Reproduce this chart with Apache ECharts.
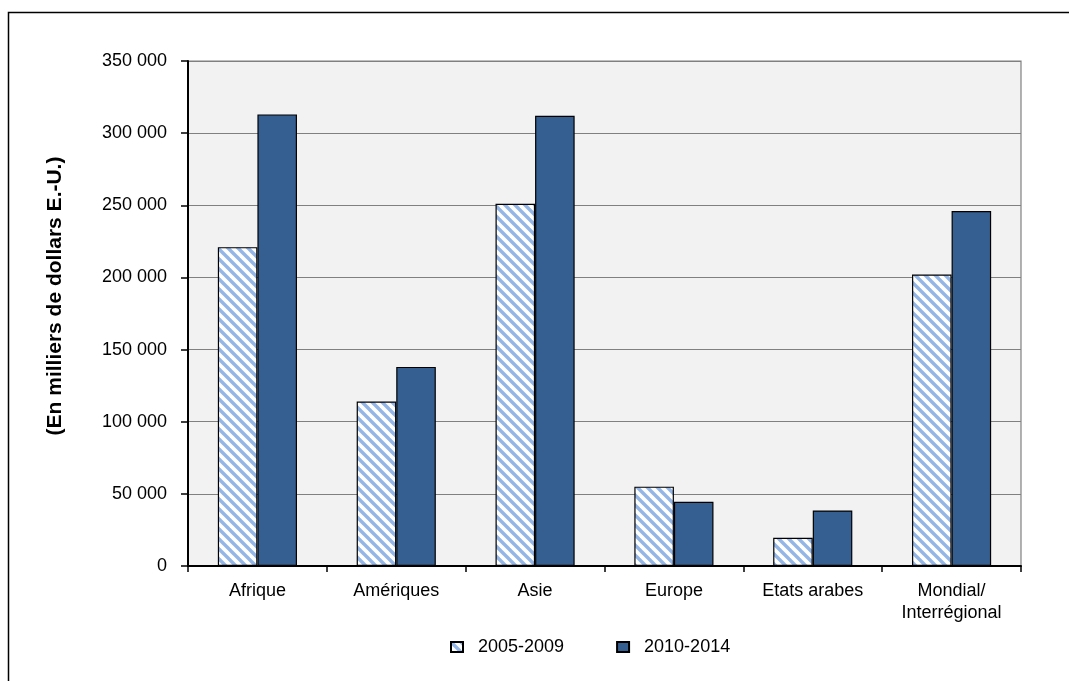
<!DOCTYPE html>
<html>
<head>
<meta charset="utf-8">
<script src="https://cdn.jsdelivr.net/npm/echarts@6/dist/echarts.min.js"></script>
<style>
  html, body { margin: 0; padding: 0; background: #fff; }
  #chart { width: 1069px; height: 681px; }
</style>
</head>
<body>
<div id="chart"></div>
<script>
// Regions (category axis)
const categories = ['Afrique', 'Amériques', 'Asie', 'Europe', 'Etats arabes', 'Mondial/\nInterrégional'];
// Amounts in thousands of US dollars
const period1Name = '2005-2009';
const period1 = [221000, 114000, 251000, 55000, 19500, 202000];
const period2Name = '2010-2014';
const period2 = [313000, 138000, 312000, 44500, 38500, 246000];
const yTitle = '(En milliers de dollars E.-U.)';

// Diagonal light-blue hatch used for the first period
function makeHatch() {
  const c = document.createElement('canvas');
  const s = 10;
  c.width = s; c.height = s;
  const g = c.getContext('2d');
  g.fillStyle = '#ffffff';
  g.fillRect(0, 0, s, s);
  g.strokeStyle = '#94b6e6';
  g.lineWidth = 3.4;
  g.lineCap = 'square';
  [[-s, 0], [0, 0], [0, -s]].forEach(([dx, dy]) => {
    g.beginPath();
    g.moveTo(dx, dy);
    g.lineTo(dx + s, dy + s);
    g.stroke();
  });
  return c;
}

const fontFamily = '"Liberation Sans", Arial, sans-serif';
const chart = echarts.init(document.getElementById('chart'), null, { renderer: 'canvas' });

const fmt = v => String(v).replace(/\B(?=(\d{3})+(?!\d))/g, ' ');

chart.setOption({
  animation: false,
  backgroundColor: '#ffffff',
  textStyle: { fontFamily: fontFamily, color: '#000' },
  graphic: [
    {
      type: 'rect',
      shape: { x: 8.5, y: 12.5, width: 1100, height: 700 },
      style: { fill: 'none', stroke: '#000', lineWidth: 1.5 },
      silent: true, z: -10
    },
    {
      type: 'text',
      x: 55, y: 296,
      rotation: Math.PI / 2,
      style: {
        text: yTitle,
        fontSize: 21,
        fontWeight: 'bold',
        fontFamily: fontFamily,
        fill: '#000',
        align: 'center',
        verticalAlign: 'middle'
      },
      silent: true
    }
  ],
  grid: {
    left: 188, right: 48, top: 61, bottom: 115,
    show: true,
    backgroundColor: '#f2f2f2',
    borderColor: '#808080',
    borderWidth: 1.2
  },
  legend: {
    bottom: 20,
    left: 445,
    icon: 'rect',
    itemWidth: 12,
    itemHeight: 10,
    itemGap: 52,
    textStyle: { fontSize: 18, fontFamily: fontFamily, color: '#000', padding: [0, 0, 0, 10] },
    data: [period1Name, period2Name]
  },
  xAxis: {
    type: 'category',
    data: categories,
    axisLine: { lineStyle: { color: '#000', width: 2 } },
    axisTick: { show: true, length: 6, lineStyle: { color: '#000', width: 1.5 } },
    axisLabel: { fontSize: 18, color: '#000', margin: 14, lineHeight: 22, fontFamily: fontFamily }
  },
  yAxis: {
    type: 'value',
    min: 0, max: 350000, interval: 50000,
    axisLine: { show: true, lineStyle: { color: '#000', width: 2 } },
    axisTick: { show: true, length: 7, lineStyle: { color: '#000', width: 1.5 } },
    axisLabel: { fontSize: 18, color: '#000', margin: 21, formatter: fmt, fontFamily: fontFamily },
    splitLine: { lineStyle: { color: '#808080', width: 1.2 } }
  },
  series: [
    {
      name: period1Name,
      type: 'bar',
      data: period1,
      barGap: '0%',
      barCategoryGap: '43%',
      itemStyle: {
        color: { image: makeHatch(), repeat: 'repeat' },
        borderColor: '#000',
        borderWidth: 1.2
      }
    },
    {
      name: period2Name,
      type: 'bar',
      data: period2,
      barGap: '0%',
      barCategoryGap: '43%',
      itemStyle: {
        color: '#365f91',
        borderColor: '#000',
        borderWidth: 1.2
      }
    }
  ]
});
</script>
</body>
</html>
